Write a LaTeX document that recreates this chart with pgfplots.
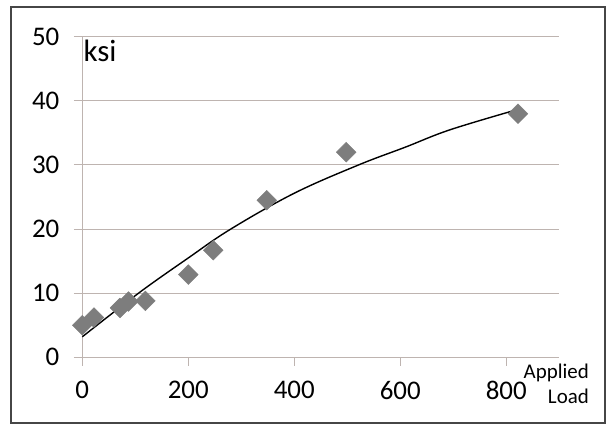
\documentclass[border=0pt]{standalone}
\usepackage{pgfplots}
\pgfplotsset{compat=1.18}
\usepackage{fontspec}
\setmainfont{Carlito}
\definecolor{gridc}{RGB}{190,180,176}
\definecolor{markc}{RGB}{125,125,125}
\definecolor{framec}{RGB}{70,70,70}
\begin{document}
\begin{tikzpicture}[x=1bp,y=1bp]
\path[fill=white] (0,0) rectangle (607,425);
\draw[framec, line width=1.6bp] (11,2) rectangle (605,418);
\begin{axis}[at={(82.3bp,67.7bp)}, anchor=south west, scale only axis,
  width=477bp, height=320.5bp,
  xmin=0, xmax=900, ymin=0, ymax=50,
  axis lines=left, axis line style={-, gridc, line width=1bp},
  xtick={0,200,400,600,800}, ytick={0,10,20,30,40,50},
  ymajorgrids, grid style={gridc, line width=1bp},
  tick align=outside, major tick length=8.5bp,
  tick style={gridc, line width=1bp},
  tick label style={font=\fontsize{27}{31}\selectfont, text=black},
  xticklabel style={yshift=-12bp},
  yticklabel style={xshift=-11bp},
  /pgf/number format/assume math mode=true,
  clip=false]
\addplot[only marks, mark=square*, mark size=7bp,
  mark options={rotate=45, fill=markc, draw=markc}] coordinates {
  (0,5.0) (22,6.2) (71,7.7) (87,8.7) (119,8.8) (200,12.9)
  (247,16.7) (348,24.5) (498,32.0) (822,38.0)};
\addplot[black, line width=1.4bp, smooth, tension=0.6] coordinates {
  (0,3.2) (106,10) (200,15.5) (280,20) (400,25.6) (521,30) (610,32.8) (694,35.5) (823,38.7)};
\node[anchor=base west, inner sep=0, font=\fontsize{31}{36}\selectfont] at (axis cs:2,46.1) {ksi};
\end{axis}
\node[anchor=base east, inner sep=0, font=\fontsize{21}{25}\selectfont] at (589,47) {Applied};
\node[anchor=base east, inner sep=0, font=\fontsize{21}{25}\selectfont] at (589,22) {Load};
\end{tikzpicture}
\end{document}
